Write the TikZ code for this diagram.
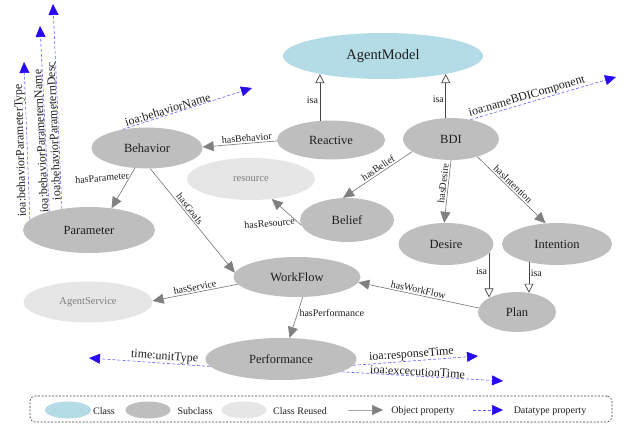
\documentclass[tikz,border=0pt]{standalone}
\usepackage{fontspec}
\setmainfont{Liberation Serif}
\usetikzlibrary{shapes.geometric,arrows.meta}
\definecolor{clsblue}{RGB}{180,220,230}
\definecolor{subgray}{RGB}{190,190,190}
\definecolor{reugray}{RGB}{230,230,230}
\definecolor{reutext}{RGB}{125,125,125}
\definecolor{objline}{RGB}{115,115,115}
\definecolor{objtip}{RGB}{128,128,128}
\definecolor{isaline}{RGB}{70,70,70}
\definecolor{dline}{RGB}{95,95,250}
\definecolor{dtip}{RGB}{40,10,240}
\definecolor{txt}{RGB}{30,30,30}
\begin{document}
\begin{tikzpicture}[x=1pt,y=-1pt,
  sz/.style 2 args={minimum width=#1pt, minimum height=#2pt},
  cls/.style={ellipse, fill=clsblue, inner sep=0pt, text=txt, font=\fontsize{14.5}{16}\selectfont},
  sub/.style={ellipse, fill=subgray, inner sep=0pt, text=txt, font=\fontsize{12.5}{14}\selectfont},
  reu/.style={ellipse, fill=reugray, inner sep=0pt, text=reutext, font=\fontsize{10.5}{12}\selectfont},
  obj/.style={draw=objline, line width=0.6pt, -{Triangle[length=11pt,width=10pt,color=objtip]}},
  isa/.style={draw=isaline, line width=0.7pt, -{Triangle[length=9pt,width=9pt,fill=white,color=isaline]}},
  dprop/.style={draw=dline, line width=0.6pt, dash pattern=on 3pt off 2pt, -{Triangle[length=11pt,width=10pt,color=dtip]}},
  elab/.style={font=\fontsize{10}{12}\selectfont, text=txt, inner sep=1.5pt},
  dlab/.style={font=\fontsize{12}{14}\selectfont, text=txt, inner sep=0.5pt},
  llab/.style={font=\fontsize{10}{12}\selectfont, text=txt, inner sep=0pt}]
\useasboundingbox (0,0) rectangle (626,423);

% nodes
\node[cls, sz={200}{46}] (AgentModel) at (383,56) {AgentModel};
\node[sub, sz={108}{39}] (Reactive) at (331,140) {Reactive};
\node[sub, sz={96}{42}] (BDI) at (451,139) {BDI};
\node[sub, sz={111}{41}] (Behavior) at (147,148) {Behavior};
\node[sub, sz={132}{46}] (Parameter) at (89,230) {Parameter};
\node[reu, sz={128}{42}] (resource) at (251,179) {resource};
\node[sub, sz={94}{44}] (Belief) at (347,220) {Belief};
\node[sub, sz={95}{42}] (Desire) at (446,244) {Desire};
\node[sub, sz={110}{42}] (Intention) at (557,244) {Intention};
\node[sub, sz={78}{40}] (Plan) at (517,312) {Plan};
\node[sub, sz={127}{40}] (WorkFlow) at (297,277) {WorkFlow};
\node[reu, sz={129}{41}] (AgentService) at (88,302) {AgentService};
\node[sub, sz={151}{42}] (Performance) at (281,359) {Performance};

% free ends of datatype properties
\coordinate (tName) at (252,88);
\coordinate (tBDI) at (616,77);
\coordinate (tPT) at (24,62);
\coordinate (tPN) at (40,26);
\coordinate (tPD) at (53,4);
\coordinate (tUnit) at (89,358);
\coordinate (tResp) at (478,356);
\coordinate (tExec) at (503,381);

% isa
\draw[isa] (Reactive.120) -- node[elab,pos=0.43,left]{isa} (Reactive.120 |- AgentModel.196);
\draw[isa] (BDI.104) -- node[elab,pos=0.43,left]{isa} (BDI.104 |- AgentModel.-16);
\draw[isa] (Desire.-12) -- node[elab,pos=0.41,left]{isa} (Desire.-12 |- Plan.152);
\draw[isa] (Intention.213) -- node[elab,pos=0.35,right]{isa} (Intention.213 |- Plan.58);

% object properties
\draw[obj] (Reactive.181) -- node[elab,pos=0.4,above,rotate=4.6]{hasBehavior} (Behavior.1);
\draw[obj] (Behavior.239) -- node[elab,pos=0.18,left,rotate=5]{hasParameter} (Parameter.44);
\draw[obj] (Behavior.-81) -- node[elab,pos=0.42,above,rotate=-51.7]{hasGoals} (WorkFlow.176);
\draw[obj] (BDI.198) -- node[elab,pos=0.45,above,rotate=33.9]{hasBelief} (Belief.100);
\draw[obj] (Belief.186) -- node[elab,pos=0.15,left,rotate=5]{hasResource} (resource.-44);
\draw[obj] (BDI.-90) -- node[elab,pos=0.38,above,rotate=83]{hasDesire} (Desire.95);
\draw[obj] (BDI.-34) -- node[elab,pos=0.47,above,rotate=-44]{hasIntention} (Intention.119);
\draw[obj] (WorkFlow.187) -- node[elab,pos=0.49,above,rotate=11]{hasService} (AgentService.1);
\draw[obj] (WorkFlow.-74) -- node[elab,pos=0.38,right]{hasPerformance} (Performance.68);
\draw[obj] (Plan.174) -- node[elab,pos=0.51,above,rotate=-12.4]{hasWorkFlow} (WorkFlow.-5);

% datatype properties
\draw[dprop] (Behavior.143) -- node[dlab,pos=0.36,above,rotate=17]{ioa:behaviorName} (tName);
\draw[dprop] (BDI.45) -- node[dlab,pos=0.40,above,rotate=16.5]{ioa:nameBDIComponent} (tBDI);
\draw[dprop] (Parameter.170) -- node[dlab,pos=0.44,above,rotate=91.8]{ioa:behaviorParameterType} (tPT);
\draw[dprop] (Parameter.155) -- node[dlab,pos=0.38,above,rotate=92.8]{ioa:behaviorParameternName} (tPN);
\draw[dprop] (Parameter.142) -- node[dlab,pos=0.38,above,rotate=92.5]{ioa:behaviorParameternDesc} (tPD);
\draw[dprop] (Performance.186) -- node[dlab,pos=0.38,above,rotate=-4.2]{time:unitType} (tUnit);
\draw[dprop] (Performance.-5) -- node[dlab,pos=0.47,above,rotate=4.1]{ioa:responseTime} (tResp);
\draw[dprop] (Performance.-12) -- node[dlab,pos=0.47,above,inner sep=0pt,rotate=-3.2]{ioa:excecutionTime} (tExec);

% legend
\node[draw=black!75, line width=0.6pt, dash pattern=on 2pt off 1.5pt, rounded corners=5pt, sz={582}{26}, inner sep=0pt] (legend) at (321,409) {};
\node[ellipse, fill=clsblue, sz={46}{17}, inner sep=0pt] (lgClass) at (68,410) {};
\node[llab] (lgClassT) at (104,411) {Class};
\node[ellipse, fill=subgray, sz={45}{17}, inner sep=0pt] (lgSub) at (148,410) {};
\node[llab] (lgSubT) at (195,411) {Subclass};
\node[ellipse, fill=reugray, sz={45}{17}, inner sep=0pt] (lgReu) at (244,410) {};
\node[llab] (lgReuT) at (300,411) {Class Reused};
\coordinate (lo1) at (348,410);
\coordinate (lo2) at (383,410);
\draw[obj, draw=objtip!70] (lo1) -- (lo2);
\node[llab] (lgObjT) at (423,411) {Object property};
\coordinate (ld1) at (473,410);
\coordinate (ld2) at (503,410);
\draw[dprop] (ld1) -- (ld2);
\node[llab] (lgDatT) at (550,411) {Datatype property};
\end{tikzpicture}
\end{document}
